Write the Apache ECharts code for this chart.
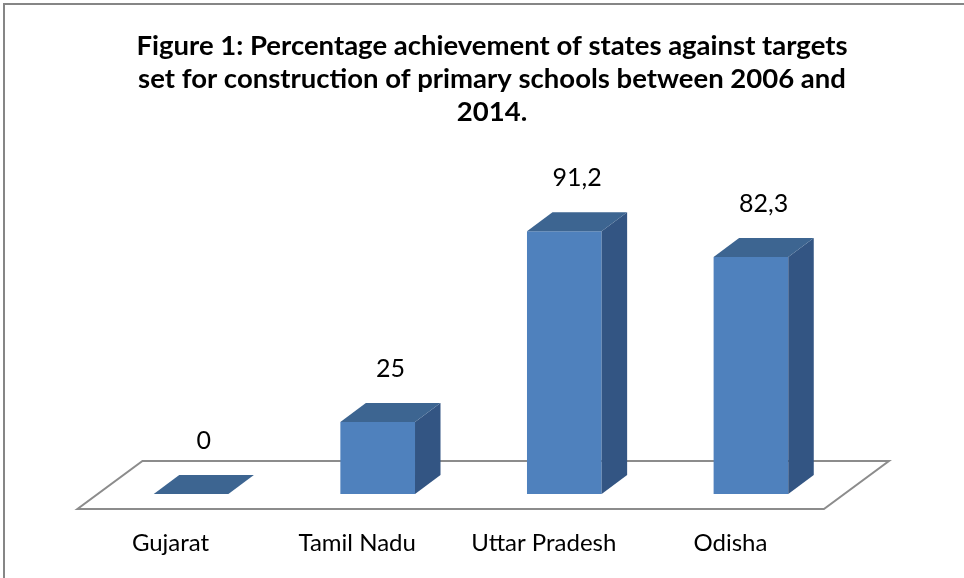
<!DOCTYPE html>
<html>
<head>
<meta charset="utf-8">
<script src="https://cdn.jsdelivr.net/npm/echarts@6/dist/echarts.min.js"></script>
<style>
    html, body {
        margin: 0;
        padding: 0;
        background: #fff;
    }
    #main {
        width: 964px;
        height: 578px;
    }
</style>
</head>
<body>
<div id="main"></div>
<script>
    // data
    var states = ['Gujarat', 'Tamil Nadu', 'Uttar Pradesh', 'Odisha'];
    var achievement = [0, 25, 91.2, 82.3];

    var titleText = 'Figure 1: Percentage achievement of states against targets\n' +
        'set for construction of primary schools between 2006 and\n2014.';

    // 3d look
    var DEPTH_X = 25.5, DEPTH_Y = -19;
    var FRONT = '#4f81bd', TOP = '#3d6591', SIDE = '#335583';

    function fmt(v) {
        return String(v).replace('.', ',');
    }

    var chart = echarts.init(document.getElementById('main'));

    function renderFloor(params, api) {
        var cs = params.coordSys;
        var base = cs.y + cs.height;
        var l = cs.x, r = cs.x + cs.width;
        var yf = base + 15, yb = base - 33;
        var k = 65 / 48;
        return {
            type: 'polygon',
            shape: {
                points: [
                    [l - 15 * k, yf], [r - 15 * k, yf],
                    [r + 33 * k, yb], [l + 33 * k, yb]
                ]
            },
            style: {fill: '#fff', stroke: '#8c8c8c', lineWidth: 2},
            silent: true
        };
    }

    function renderBar(params, api) {
        var idx = api.value(0);
        var val = api.value(1);
        var base = api.coord([idx, 0]);
        var top = api.coord([idx, val]);
        var band = api.size([1, 0])[0];
        var w = band * 0.4;
        var x0 = base[0] - w / 2, x1 = base[0] + w / 2;
        var yb = base[1], yt = top[1];
        var children = [];
        if (yb - yt > 0.5) {
            children.push({
                type: 'rect',
                shape: {x: x0, y: yt, width: w, height: yb - yt},
                style: {fill: FRONT}
            });
        }
        children.push({
            type: 'polygon',
            shape: {points: [[x1, yt], [x1 + DEPTH_X, yt + DEPTH_Y], [x1 + DEPTH_X, yb + DEPTH_Y], [x1, yb]]},
            style: {fill: SIDE}
        });
        children.push({
            type: 'polygon',
            shape: {points: [[x0, yt], [x1, yt], [x1 + DEPTH_X, yt + DEPTH_Y], [x0 + DEPTH_X, yt + DEPTH_Y]]},
            style: {fill: TOP}
        });
        children.push({
            type: 'text',
            style: {
                x: base[0] + DEPTH_X / 2,
                y: yt + DEPTH_Y - 34,
                text: fmt(val),
                fill: '#000',
                font: '25px Lato',
                align: 'center',
                verticalAlign: 'middle'
            }
        });
        return {type: 'group', children: children};
    }

    var barData = achievement.map(function (v, i) {
        return [i, v];
    });

    var option = {
        backgroundColor: '#fff',
        animation: false,
        title: {
            text: titleText,
            left: 487,
            top: 25,
            textAlign: 'center',
            textStyle: {
                fontFamily: 'Lato',
                fontWeight: 'bold',
                fontSize: 27.5,
                lineHeight: 33,
                color: '#000'
            }
        },
        graphic: [{
            type: 'rect',
            shape: {x: 4, y: 4, width: 980, height: 600},
            style: {fill: 'none', stroke: '#868686', lineWidth: 2},
            silent: true
        }],
        grid: {left: 97.75, top: 206, width: 746.5, height: 288},
        xAxis: {
            type: 'category',
            data: states,
            axisLine: {show: false},
            axisTick: {show: false},
            axisLabel: {
                interval: 0,
                margin: 37,
                padding: [0, 41, 0, 0],
                fontFamily: 'Lato',
                fontSize: 24,
                color: '#000'
            }
        },
        yAxis: {
            type: 'value',
            min: 0,
            max: 100,
            show: false,
            splitLine: {show: false}
        },
        series: [{
            type: 'custom',
            renderItem: renderFloor,
            data: [[0]],
            silent: true,
            z: 1
        }, {
            type: 'custom',
            renderItem: renderBar,
            data: barData,
            z: 2
        }]
    };

    chart.setOption(option);
</script>
</body>
</html>
